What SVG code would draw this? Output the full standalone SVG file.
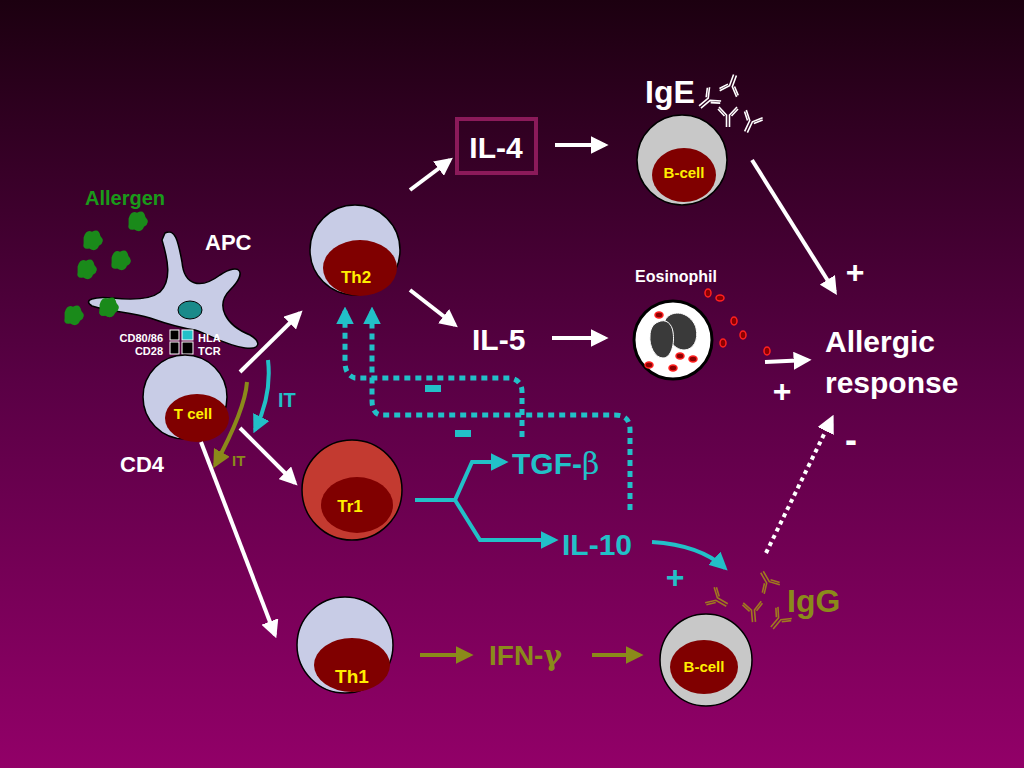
<svg xmlns="http://www.w3.org/2000/svg" width="1024" height="768" viewBox="0 0 1024 768">
<defs>
<linearGradient id="bg" x1="0" y1="0" x2="0" y2="1"><stop offset="0" stop-color="#1c0010"/><stop offset="0.5" stop-color="#5a0045"/><stop offset="1" stop-color="#920068"/></linearGradient>
<marker id="aw" viewBox="0 0 10 10" refX="8" refY="5" markerWidth="4.5" markerHeight="4.5" orient="auto"><path d="M0,0L10,5L0,10z" fill="#fff"/></marker>
<marker id="ac" viewBox="0 0 10 10" refX="8" refY="5" markerWidth="4.5" markerHeight="4.5" orient="auto"><path d="M0,0L10,5L0,10z" fill="#22c0c8"/></marker>
<marker id="ao" viewBox="0 0 10 10" refX="8" refY="5" markerWidth="4.5" markerHeight="4.5" orient="auto"><path d="M0,0L10,5L0,10z" fill="#8b8a1a"/></marker>
<marker id="ac2" viewBox="0 0 10 10" refX="8" refY="5" markerWidth="3.5" markerHeight="3.5" orient="auto"><path d="M0,0L10,5L0,10z" fill="#22c0c8"/></marker>
<g id="ab"><path d="M-1.5,0V-12L-9,-20M1.5,0V-12L9,-20M-3.5,-11L-10,-18M3.5,-11L10,-18" fill="none" stroke-width="1.6"/></g>
<g id="allg"><path d="M-6,-4q2,-6 6,-4q5,-3 6,3q4,4 -1,7q-2,5 -7,2q-5,1 -4,-4z" fill="#1a8a1a" transform="scale(1.4)"/></g>
</defs>
<style>
text{font-family:"Liberation Sans",Arial,sans-serif;font-weight:bold}
.w{fill:#fff}.c{fill:#22c0c8}.o{fill:#8b8a1a}.y{fill:#ffee00}
.aw{stroke:#fff;stroke-width:4;fill:none;marker-end:url(#aw)}
.ao{stroke:#8b8a1a;stroke-width:4;fill:none;marker-end:url(#ao)}
.ac{stroke:#22c0c8;stroke-width:4;fill:none;marker-end:url(#ac)}
.dc{stroke:#22c0c8;stroke-width:5;fill:none;stroke-dasharray:6 5;marker-end:url(#ac2)}
.lav{fill:#c8cce6;stroke:#000;stroke-width:1.5}
.gr{fill:#c8c8c8;stroke:#000;stroke-width:1.5}
.nuc{fill:#800000}
</style>
<rect width="1024" height="768" fill="url(#bg)"/>

<g id="allergen">
<text x="85" y="205" font-size="20" fill="#1a9a1a">Allergen</text>
<use href="#allg" x="137" y="224"/><use href="#allg" x="92" y="243"/><use href="#allg" x="86" y="272"/><use href="#allg" x="120" y="263"/><use href="#allg" x="73" y="318"/><use href="#allg" x="108" y="310"/>
</g>
<g id="apc">
<path d="M165,233 C175,228 178,240 182,262 C184,285 200,290 220,275 C240,262 248,272 230,290 C215,305 225,325 250,335 C262,342 260,350 245,348 C225,345 210,335 195,330 C180,328 170,325 150,318 C130,312 110,312 92,306 C82,300 95,296 112,298 C130,300 150,300 160,292 C172,280 168,260 162,240 Z" fill="#c8cce6" stroke="#000" stroke-width="1.5"/>
<use href="#allg" x="108" y="310"/>
<ellipse cx="190" cy="310" rx="12" ry="9" fill="#1a8a8a" stroke="#000"/>
<text x="205" y="250" font-size="22" class="w">APC</text>
<rect x="170" y="330" width="9" height="10" fill="#000" stroke="#fff"/><rect x="182" y="330" width="11" height="10" fill="#22c0c8" stroke="#fff"/>
<rect x="170" y="342" width="9" height="12" fill="#000" stroke="#fff"/><rect x="182" y="342" width="11" height="12" fill="#000" stroke="#fff"/>
<text x="163" y="342" font-size="11" class="w" text-anchor="end">CD80/86</text>
<text x="163" y="355" font-size="11" class="w" text-anchor="end">CD28</text>
<text x="198" y="342" font-size="11" class="w">HLA</text>
<text x="198" y="355" font-size="11" class="w">TCR</text>
</g>
<g id="tcell"><circle cx="185" cy="397" r="42" class="lav"/><ellipse cx="197" cy="418" rx="32" ry="24" class="nuc"/><text x="193" y="419" font-size="15" class="y" text-anchor="middle">T cell</text>
<text x="120" y="472" font-size="22" class="w">CD4</text></g>
<g id="th2"><circle cx="355" cy="250" r="45" class="lav"/><ellipse cx="360" cy="268" rx="37" ry="28" class="nuc"/><text x="356" y="283" font-size="17" class="y" text-anchor="middle">Th2</text></g>
<g id="tr1"><circle cx="352" cy="490" r="50" fill="#c33a30" stroke="#000" stroke-width="1.5"/><ellipse cx="357" cy="505" rx="36" ry="28" class="nuc"/><text x="350" y="512" font-size="17" class="y" text-anchor="middle">Tr1</text></g>
<g id="th1"><circle cx="345" cy="645" r="48" class="lav"/><ellipse cx="352" cy="665" rx="38" ry="27" class="nuc"/><text x="352" y="683" font-size="19" class="y" text-anchor="middle">Th1</text></g>
<g id="il4"><rect x="457" y="119" width="79" height="54" fill="none" stroke="#8b1a5a" stroke-width="4"/><text x="496" y="158" font-size="30" class="w" text-anchor="middle">IL-4</text></g>
<g id="il5"><text x="472" y="350" font-size="30" class="w">IL-5</text></g>
<g id="bcell1"><text x="645" y="103" font-size="32" class="w">IgE</text>
<g stroke="#fff"><use href="#ab" transform="translate(700,107) rotate(50)"/><use href="#ab" transform="translate(735,75) rotate(200)"/><use href="#ab" transform="translate(728,127)"/><use href="#ab" transform="translate(746,132) rotate(25)"/></g>
<circle cx="682" cy="160" r="45" class="gr"/><ellipse cx="684" cy="175" rx="32" ry="27" class="nuc"/><text x="684" y="178" font-size="15" class="y" text-anchor="middle">B-cell</text></g>
<g id="eos"><text x="676" y="282" font-size="16" class="w" text-anchor="middle">Eosinophil</text>
<circle cx="673" cy="340" r="39" fill="#fff" stroke="#000" stroke-width="3"/>
<path d="M672,314c12,-4 22,6 24,14c3,12 -3,22 -12,22c-10,0 -20,-14 -20,-24c0,-6 3,-10 8,-12z" fill="#3a3a3a" stroke="#fff"/>
<path d="M658,322c8,-4 14,2 15,10c2,12 -2,26 -10,26c-8,0 -14,-12 -13,-22c0,-7 3,-12 8,-14z" fill="#3a3a3a" stroke="#fff"/>
<g fill="#8b0000" stroke="#ff2020" stroke-width="1.5"><ellipse cx="659" cy="315" rx="4" ry="3"/><ellipse cx="680" cy="356" rx="4" ry="3"/><ellipse cx="693" cy="359" rx="4" ry="3"/><ellipse cx="649" cy="365" rx="4" ry="3"/><ellipse cx="673" cy="368" rx="4" ry="3"/><ellipse cx="708" cy="293" rx="3" ry="4"/><ellipse cx="720" cy="298" rx="4" ry="3"/><ellipse cx="734" cy="321" rx="3" ry="4"/><ellipse cx="743" cy="335" rx="3" ry="4"/><ellipse cx="723" cy="343" rx="3" ry="4"/><ellipse cx="767" cy="351" rx="3" ry="4"/></g></g>
<g id="allergic"><text x="825" y="352" font-size="30" class="w">Allergic</text><text x="825" y="393" font-size="30" class="w">response</text>
<text x="855" y="283" font-size="32" class="w" text-anchor="middle">+</text><text x="782" y="402" font-size="32" class="w" text-anchor="middle">+</text><text x="851" y="452" font-size="36" class="w" text-anchor="middle">-</text></g>
<g id="tgf"><text x="512" y="474" font-size="30" class="c">TGF-<tspan font-family="'DejaVu Serif',serif" font-weight="normal">β</tspan></text></g>
<g id="il10"><text x="562" y="555" font-size="30" class="c">IL-10</text><text x="675" y="588" font-size="32" class="c" text-anchor="middle">+</text></g>
<g id="ifn"><text x="489" y="665" font-size="28" class="o">IFN-<tspan font-family="'DejaVu Serif',serif">γ</tspan></text></g>
<g id="bcell2"><text x="787" y="612" font-size="32" class="o">IgG</text>
<g stroke="#a07820"><use href="#ab" transform="translate(727,605) rotate(-60)"/><use href="#ab" transform="translate(762,572) rotate(150)"/><use href="#ab" transform="translate(754,622) rotate(-5)"/><use href="#ab" transform="translate(772,628) rotate(40)"/></g>
<circle cx="706" cy="660" r="46" class="gr"/><ellipse cx="704" cy="667" rx="34" ry="27" class="nuc"/><text x="704" y="672" font-size="15" class="y" text-anchor="middle">B-cell</text></g>
<g id="connectors">
<line x1="240" y1="372" x2="300" y2="313" class="aw"/>
<line x1="240" y1="428" x2="295" y2="483" class="aw"/>
<line x1="201" y1="442" x2="275" y2="635" class="aw"/>
<line x1="410" y1="190" x2="450" y2="160" class="aw"/>
<line x1="555" y1="145" x2="605" y2="145" class="aw"/>
<line x1="410" y1="290" x2="455" y2="325" class="aw"/>
<line x1="552" y1="338" x2="605" y2="338" class="aw"/>
<line x1="752" y1="160" x2="835" y2="292" class="aw"/>
<line x1="765" y1="362" x2="808" y2="360" class="aw"/>
<line x1="766" y1="553" x2="832" y2="418" stroke="#fff" stroke-width="4" stroke-dasharray="4 4" marker-end="url(#aw)"/>
<line x1="420" y1="655" x2="470" y2="655" class="ao"/>
<line x1="592" y1="655" x2="640" y2="655" class="ao"/>
<path d="M247,382 Q245,410 215,465" class="ao"/>
<path d="M268,360 Q272,395 255,430" class="ac"/>
<text x="278" y="407" font-size="20" class="c">IT</text>
<text x="232" y="466" font-size="15" class="o">IT</text>
<path d="M415,500H455L472,462H505" class="ac"/>
<path d="M455,500L480,540H555" class="ac"/>
<path d="M652,542 Q700,545 725,568" class="ac"/>
<path d="M522,437V392Q522,380 510,378H355Q345,375 345,362V310" class="dc"/>
<path d="M630,510V430Q630,415 615,415H380Q372,413 372,400V310" class="dc"/>
<rect x="425" y="385" width="16" height="7" fill="#22c0c8"/>
<rect x="455" y="430" width="16" height="7" fill="#22c0c8"/>
</g>
</svg>
